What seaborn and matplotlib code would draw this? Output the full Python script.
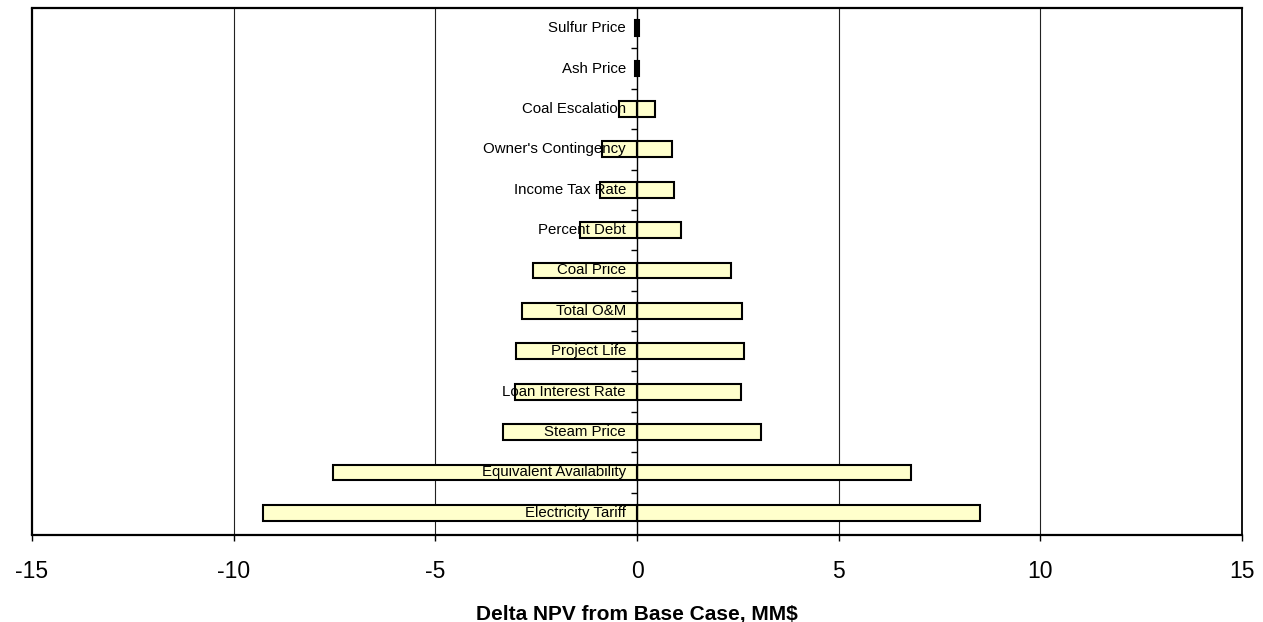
import matplotlib
matplotlib.use("Agg")
import matplotlib.pyplot as plt
import seaborn as sns
import pandas as pd

# Sensitivity of project NPV to each input (MM$ change from base case)
factors = [
    "Sulfur Price", "Ash Price", "Coal Escalation", "Owner's Contingency",
    "Income Tax Rate", "Percent Debt", "Coal Price", "Total O&M",
    "Project Life", "Loan Interest Rate", "Steam Price",
    "Equivalent Availability", "Electricity Tariff",
]
low_case = [-0.04, -0.04, -0.44, -0.86, -0.92, -1.41, -2.59, -2.85,
            -3.01, -3.02, -3.33, -7.54, -9.27]
high_case = [0.04, 0.04, 0.45, 0.88, 0.92, 1.08, 2.33, 2.60,
             2.65, 2.59, 3.08, 6.79, 8.50]
x_ticks = [-15, -10, -5, 0, 5, 10, 15]

df = pd.DataFrame({"factor": factors, "low": low_case, "high": high_case})

sns.set_style("white")
plt.rcParams["font.family"] = ["Liberation Sans", "DejaVu Sans"]
plt.rcParams["text.color"] = "black"
plt.rcParams["xtick.color"] = "black"
plt.rcParams["ytick.color"] = "black"
plt.rcParams["axes.labelcolor"] = "black"

fig = plt.figure(figsize=(12.63, 6.22), dpi=100)
ax = fig.add_axes([0.02534, 0.13987, 0.95803, 0.84727])

bar_kw = dict(orient="h", width=0.39, color="#FFFFCC", edgecolor="black",
              linewidth=1.5, saturation=1, ax=ax, zorder=2)
sns.barplot(data=df, x="low", y="factor", **bar_kw)
sns.barplot(data=df, x="high", y="factor", **bar_kw)

ax.set_xlim(-15, 15)
ax.set_ylim(12.55, -0.5)

# vertical grid at the major x ticks
ax.set_xticks(x_ticks)
ax.set_xticklabels([str(t) for t in x_ticks])
for t in x_ticks:
    if t not in (-15, 0, 15):
        ax.axvline(t, color="#222222", lw=0.8, zorder=0)

# y axis runs through zero with ticks between categories
ax.spines["left"].set_position(("data", 0))
ax.spines["left"].set_linewidth(1.0)
ax.spines["left"].set_zorder(3)
ax.set_yticks([i + 0.5 for i in range(len(factors) - 1)])
ax.set_yticklabels([])
ax.tick_params(axis="y", length=4, width=1, direction="out", color="black", left=True)
ax.axvline(-15, color="black", lw=1.6, clip_on=False, zorder=4)

for side in ("top", "bottom"):
    ax.spines[side].set_linewidth(1.6)
    ax.spines[side].set_color("black")
ax.spines["right"].set_linewidth(1.3)
ax.spines["right"].set_color("black")
ax.spines["left"].set_color("black")

ax.tick_params(axis="x", length=4, width=1, direction="out", color="black",
               labelcolor="black", bottom=True, labelsize=16.5, pad=14)

# factor names right-aligned just left of the zero line
for i, name in enumerate(factors):
    ax.annotate(name, xy=(0, i), xytext=(-11, 0), textcoords="offset pixels",
                ha="right", va="center", fontsize=10.8, color="black", zorder=5)

ax.set_ylabel("")
ax.set_xlabel("Delta NPV from Base Case, MM$", fontsize=15, fontweight="bold",
              color="black", labelpad=16)

fig.savefig("out.png", dpi=100)
